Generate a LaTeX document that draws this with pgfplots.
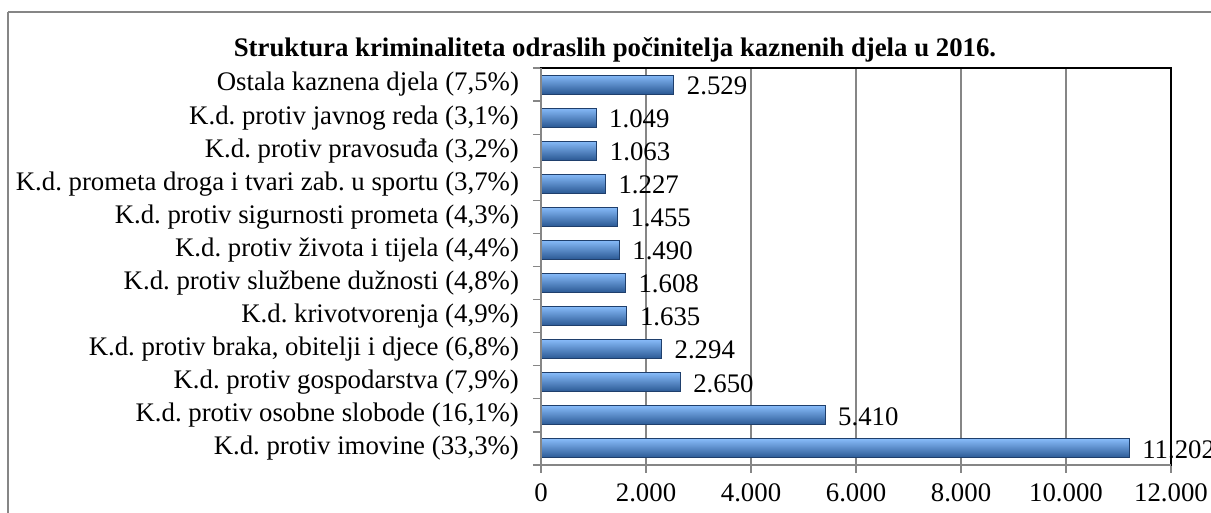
\documentclass[border=0pt]{standalone}
\usepackage{pgfplots}
\pgfplotsset{compat=1.18}
\usepackage{fontspec}
\setmainfont{Liberation Serif}
\frenchspacing
\definecolor{gridgray}{HTML}{868686}
\definecolor{bartop}{HTML}{86BAF8}
\definecolor{barmid}{HTML}{4A8BDD}
\definecolor{barbot}{HTML}{2A5893}
\definecolor{bardraw}{HTML}{1F3F6C}
\pgfplotsset{mybar/.style={draw=bardraw, line width=0.5pt, top color=bartop, middle color=barmid, bottom color=barbot, bar shift=0pt}}
\begin{document}
\begin{tikzpicture}
\path[use as bounding box] (0pt,0pt) rectangle (605.5pt,256.5pt);
\draw[gridgray,line width=0.8pt] (4pt,250.5pt) -- (620pt,250.5pt);
\draw[gridgray,line width=0.8pt] (4pt,250.5pt) -- (4pt,-10pt);
\node[font=\fontsize{13.4}{15}\selectfont\bfseries] at (307.5pt,231.5pt) {Struktura kriminaliteta odraslih počinitelja kaznenih djela u 2016.};
\begin{axis}[
  at={(270.5pt,24pt)}, anchor=south west,
  scale only axis, width=315pt, height=198.5pt,
  xbar, bar width=9.5pt,
  xmin=0, xmax=12000,
  ymin=-0.5, ymax=11.5,
  xtick={0,2000,...,12000},
  scaled x ticks=false,
  /pgf/number format/.cd, 1000 sep={.}, assume math mode=true, /pgfplots/.cd,
  xmajorgrids, major grid style={gridgray, line width=0.6pt},
  ytick={0,...,11},
  yticklabels={
    K.d. protiv imovine (33{,}3\%),
    K.d. protiv osobne slobode (16{,}1\%),
    K.d. protiv gospodarstva (7{,}9\%),
    {K.d. protiv braka, obitelji i djece (6{,}8\%)},
    K.d. krivotvorenja (4{,}9\%),
    K.d. protiv službene dužnosti (4{,}8\%),
    K.d. protiv života i tijela (4{,}4\%),
    K.d. protiv sigurnosti prometa (4{,}3\%),
    K.d. prometa droga i tvari zab. u sportu (3{,}7\%),
    K.d. protiv pravosuđa (3{,}2\%),
    K.d. protiv javnog reda (3{,}1\%),
    Ostala kaznena djela (7{,}5\%)},
  major y tick style={draw=none},
  minor ytick={-0.5,0.5,...,11.5},
  minor y tick style={gridgray, line width=0.6pt},
  minor tick length=4pt,
  major x tick style={gridgray, line width=0.6pt},
  major tick length=4pt,
  xtick align=outside, ytick align=outside,
  xtick pos=bottom, ytick pos=left,
  tick label style={font=\fontsize{13.4}{15}\selectfont},
  yticklabel style={xshift=-3.5pt},
  xticklabel style={yshift=-2pt},
  axis line style={black, line width=0.7pt},
  nodes near coords,
  nodes near coords style={font=\fontsize{13.4}{15}\selectfont, anchor=west, xshift=3pt, yshift=-0.5pt, /pgf/number format/.cd, 1000 sep={.}},
  clip=false,
]
\addplot[mybar] coordinates {(11202,0)};
\addplot[mybar] coordinates {(5410,1)};
\addplot[mybar] coordinates {(2650,2)};
\addplot[mybar] coordinates {(2294,3)};
\addplot[mybar] coordinates {(1635,4)};
\addplot[mybar] coordinates {(1608,5)};
\addplot[mybar] coordinates {(1490,6)};
\addplot[mybar] coordinates {(1455,7)};
\addplot[mybar] coordinates {(1227,8)};
\addplot[mybar] coordinates {(1063,9)};
\addplot[mybar] coordinates {(1049,10)};
\addplot[mybar] coordinates {(2529,11)};
\draw[gridgray, line width=0.8pt] (rel axis cs:0,1) -- (rel axis cs:0,0) -- (rel axis cs:1,0);
\end{axis}
\end{tikzpicture}
\end{document}
